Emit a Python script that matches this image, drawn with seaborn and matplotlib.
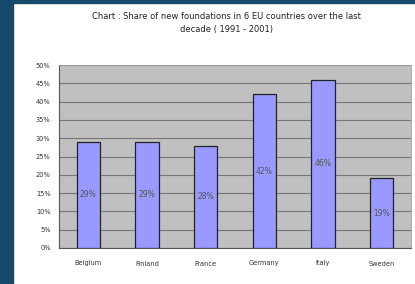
import matplotlib
matplotlib.use("Agg")
import matplotlib.pyplot as plt
import seaborn as sns
import pandas as pd
from matplotlib.patches import Rectangle

countries = ["Belgium", "Finland", "France", "Germany", "Italy", "Sweden"]
shares = [29, 29, 28, 42, 46, 19]
bar_labels = ["29%", "29%", "28%", "42%", "46%", "19%"]
y_ticks = [0, 5, 10, 15, 20, 25, 30, 35, 40, 45, 50]
y_tick_labels = ["0%", "5%", "10%", "15%", "20%", "25%", "30%", "35%", "40%", "45%", "50%"]
title = "Chart : Share of new foundations in 6 EU countries over the last\ndecade ( 1991 - 2001)"

df = pd.DataFrame({"country": countries, "share": shares})

sns.set_style("white")
plt.rcParams["font.family"] = ["DejaVu Sans"]

W, H = 415, 284
fig = plt.figure(figsize=(W / 100, H / 100), dpi=100)
fig.patch.set_facecolor("white")

# dark frame strips
fig.add_artist(Rectangle((0, 0), 13 / W, 1, transform=fig.transFigure, color="#17496b", zorder=0))
fig.add_artist(Rectangle((0, 1 - 3 / H), 1, 3 / H, transform=fig.transFigure, color="#17496b", zorder=0))

left, right, top, bottom = 59, 411, 65, 248
ax = fig.add_axes([left / W, 1 - bottom / H, (right - left) / W, (bottom - top) / H])
ax.set_facecolor("#c0c0c0")

sns.barplot(data=df, x="country", y="share", ax=ax, color="#9999ff", width=0.4,
            edgecolor="#222222", linewidth=0.9, saturation=1, zorder=3)

ax.set_ylim(0, 50)
ax.set_xlim(-0.5, len(countries) - 0.5)
ax.set_yticks(y_ticks)
ax.set_yticklabels(y_tick_labels, fontsize=4.8, color="#333333")
ax.tick_params(axis="x", labelsize=4.8, colors="#333333", length=0, pad=9)
ax.tick_params(axis="y", length=2, width=0.5, pad=4)
ax.yaxis.grid(True, color="#777777", linewidth=0.8, zorder=1)
ax.set_axisbelow(True)
ax.set_xlabel("")
ax.set_ylabel("")
for s in ["top", "right"]:
    ax.spines[s].set_color("#a0a0a0")
    ax.spines[s].set_linewidth(0.6)
for s in ["left", "bottom"]:
    ax.spines[s].set_color("#555555")
    ax.spines[s].set_linewidth(0.8)

for i, (v, lab) in enumerate(zip(shares, bar_labels)):
    ax.text(i, v / 2, lab, ha="center", va="center", fontsize=5.5, color="#555555", zorder=5)

fig.text(226 / W, 1 - 23 / H, title, ha="center", va="center", fontsize=6,
         color="#222222", linespacing=1.5)

fig.savefig("out.png", dpi=100)
